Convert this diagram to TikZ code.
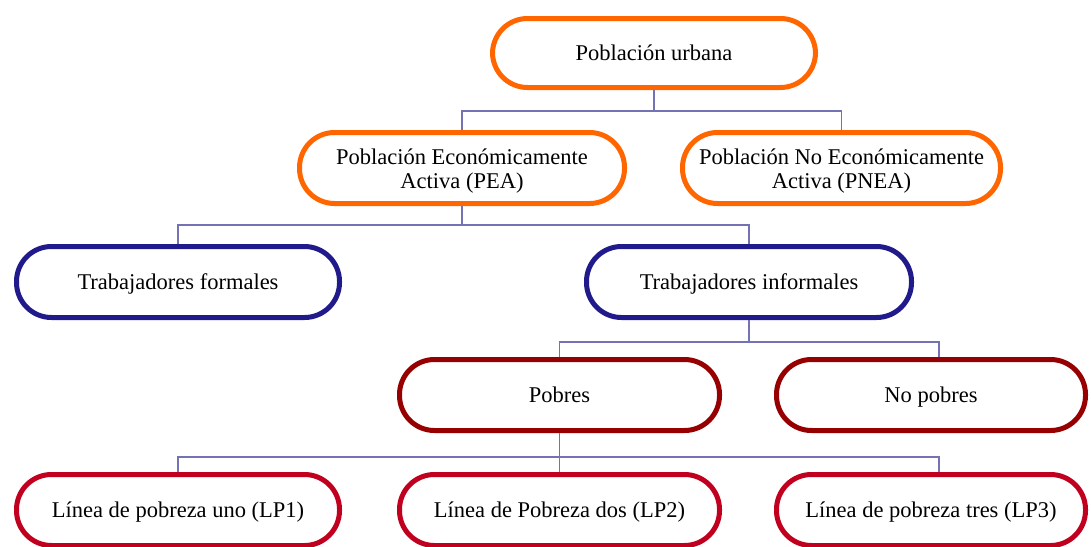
\documentclass[tikz,border=0pt]{standalone}
\usepackage{fontspec}
\setmainfont{Liberation Serif}
\begin{document}
\begin{tikzpicture}[x=1pt,y=-1pt,
    box/.style={draw,line width=5pt,rounded corners=35pt,fill=white,
      align=center,minimum height=71pt,inner sep=0pt,
      text height=20pt,text depth=6pt,
      font=\fontsize{22.5}{24}\selectfont},
    two/.style={text height=46pt},
    link/.style={draw=linkcol,line width=1.8pt}]
  \definecolor{orangecol}{RGB}{255,102,0}
  \definecolor{bluecol}{RGB}{33,26,138}
  \definecolor{darkredcol}{RGB}{150,0,0}
  \definecolor{crimsoncol}{RGB}{192,0,30}
  \definecolor{linkcol}{RGB}{114,114,180}

  \useasboundingbox (0,0) rectangle (1091,546);

  \node[box,draw=orangecol,minimum width=323pt,minimum height=69pt] (urbana) at (654,53) {Población urbana};
  \node[box,two,draw=orangecol,minimum width=325pt] (pea) at (462,168) {Población Económicamente\\Activa (PEA)};
  \node[box,two,draw=orangecol,minimum width=318pt] (pnea) at (841.5,168) {Población No Económicamente\\Activa (PNEA)};

  \node[box,draw=bluecol,minimum width=323pt] (formales) at (178,282) {Trabajadores formales};
  \node[box,draw=bluecol,minimum width=325pt] (informales) at (749,282) {Trabajadores informales};

  \node[box,draw=darkredcol,minimum width=320pt] (pobres) at (559.5,395) {Pobres};
  \node[box,draw=darkredcol,minimum width=309pt] (nopobres) at (931,395) {No pobres};

  \node[box,draw=crimsoncol,minimum width=323pt] (lpuno) at (178,510) {Línea de pobreza uno (LP1)};
  \node[box,draw=crimsoncol,minimum width=320pt] (lpdos) at (559.5,510) {Línea de Pobreza dos (LP2)};
  \node[box,draw=crimsoncol,minimum width=309pt] (lptres) at (931,510) {Línea de pobreza tres (LP3)};

  \coordinate (c1) at (654,111);
  \coordinate (c2) at (462,225);
  \coordinate (c3) at (749,342);
  \coordinate (c4) at (559.5,457);

  \draw[link] (urbana.south) -- (c1);
  \draw[link] (pea.north) |- (c1) -| (pnea.north);
  \draw[link] (pea.south) -- (c2);
  \draw[link] (formales.north) |- (c2) -| (informales.north);
  \draw[link] (informales.south) -- (c3);
  \draw[link] (pobres.north) |- (c3) -| ([xshift=8pt]nopobres.north);
  \draw[link] (pobres.south) -- (c4) -- (lpdos.north);
  \draw[link] (lpuno.north) |- (c4) -| ([xshift=8pt]lptres.north);
\end{tikzpicture}
\end{document}
